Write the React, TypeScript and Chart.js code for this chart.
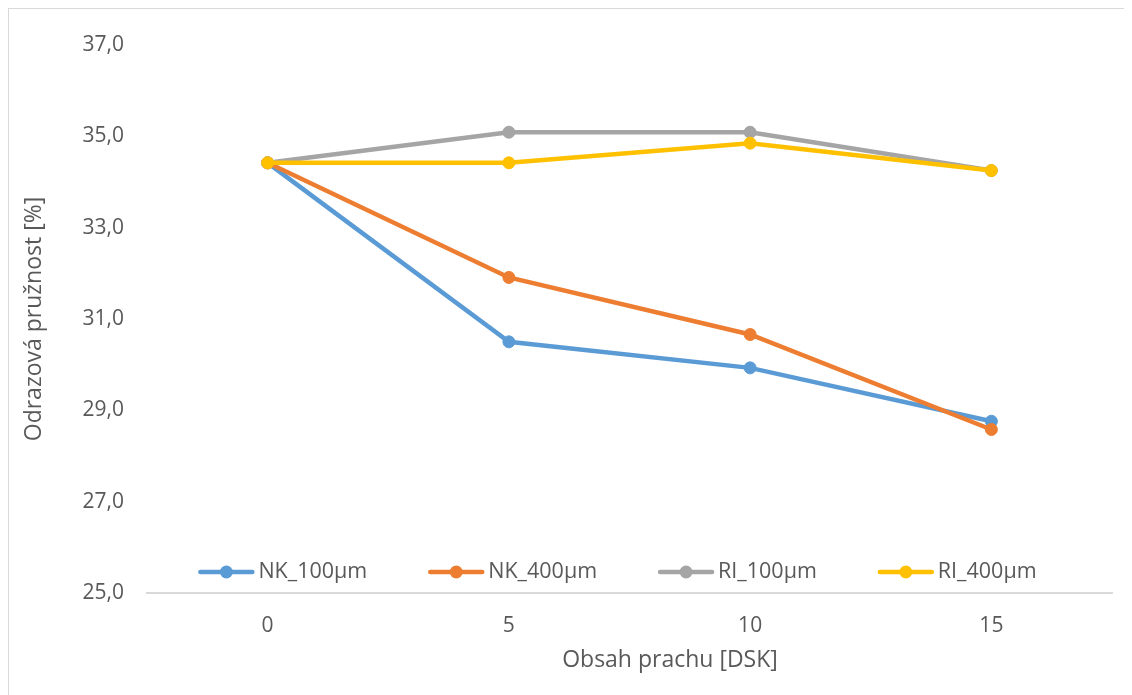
import React, { useEffect, useRef } from "react";
import { Chart, registerables } from "chart.js";

Chart.register(...registerables);

// Dust content categories (x axis)
const categories = ["0", "5", "10", "15"];

// Rebound resilience [%] for each series
const nk100 = [34.42, 30.5, 29.93, 28.76];
const nk400 = [34.42, 31.91, 30.66, 28.58];
const ri100 = [34.42, 35.09, 35.09, 34.25];
const ri400 = [34.42, 34.42, 34.85, 34.25];

const seriesNames = ["NK_100µm", "NK_400µm", "RI_100µm", "RI_400µm"];
const seriesColors = ["#5B9BD5", "#ED7D31", "#A5A5A5", "#FFC000"];

const xTitle = "Obsah prachu [DSK]";
const yTitle = "Odrazová pružnost [%]";

const yMin = 25;
const yMax = 37;
const yStep = 2;

const FONT = "'Open Sans', 'Liberation Sans', sans-serif";
const TEXT = "#595959";

// Legend drawn inside the plot area, along its bottom edge,
// plus the x axis title, which sits a little right of the plot centre
const insideLegend = {
  id: "insideLegend",
  afterDatasetsDraw(chart: any) {
    const { ctx, chartArea } = chart;
    const datasets = chart.data.datasets;
    ctx.save();
    ctx.font = `21.5px ${FONT}`;
    const lineLen = 56;
    const textGap = 4;
    const itemGap = 61;
    const widths = datasets.map((d: any) => lineLen + textGap + ctx.measureText(d.label).width);
    const total = widths.reduce((a: number, b: number) => a + b, 0) + itemGap * (datasets.length - 1);
    const center = (chartArea.left + chartArea.right) / 2 - 12;
    let x = center - total / 2;
    const y = chartArea.bottom - 21;
    datasets.forEach((d: any, i: number) => {
      ctx.strokeStyle = d.borderColor;
      ctx.lineWidth = 4.5;
      ctx.lineCap = "round";
      ctx.beginPath();
      ctx.moveTo(x + 2, y);
      ctx.lineTo(x + lineLen - 2, y);
      ctx.stroke();
      ctx.fillStyle = d.pointBackgroundColor;
      ctx.beginPath();
      ctx.arc(x + lineLen / 2, y, 6.5, 0, Math.PI * 2);
      ctx.fill();
      ctx.fillStyle = TEXT;
      ctx.textAlign = "left";
      ctx.textBaseline = "middle";
      ctx.fillText(d.label, x + lineLen + textGap, y);
      x += widths[i] + itemGap;
    });

    ctx.font = `23px ${FONT}`;
    ctx.fillStyle = TEXT;
    ctx.textAlign = "center";
    ctx.textBaseline = "middle";
    ctx.fillText(xTitle, (chartArea.left + chartArea.right) / 2 + 40.5, chartArea.bottom + 67);
    ctx.restore();
  },
};

export default function App() {
  const canvasRef = useRef<HTMLCanvasElement | null>(null);

  useEffect(() => {
    if (!canvasRef.current) return;
    const values = [nk100, nk400, ri100, ri400];
    const chart = new Chart(canvasRef.current, {
      type: "line",
      data: {
        labels: categories,
        datasets: values.map((v, i) => ({
          label: seriesNames[i],
          data: v,
          borderColor: seriesColors[i],
          backgroundColor: seriesColors[i],
          pointBackgroundColor: seriesColors[i],
          pointBorderColor: seriesColors[i],
          pointRadius: 6,
          pointBorderWidth: 1,
          borderWidth: 4.5,
          tension: 0,
          fill: false,
          order: values.length - i,
        })),
      },
      options: {
        animation: false,
        responsive: true,
        maintainAspectRatio: false,
        layout: { padding: { left: 10, right: 20, top: 36, bottom: 0 } },
        plugins: {
          legend: { display: false },
          tooltip: { enabled: false },
        },
        scales: {
          x: {
            type: "category",
            offset: true,
            grid: { display: false, drawTicks: false },
            border: { display: true, color: "#d9d9d9", width: 2 },
            ticks: { color: TEXT, font: { family: FONT, size: 21 }, padding: 20 },
            afterFit: (scale: any) => {
              scale.height = 102;
            },
          },
          y: {
            min: yMin,
            max: yMax,
            grid: { display: false, drawTicks: false },
            border: { display: false },
            ticks: {
              stepSize: yStep,
              color: TEXT,
              font: { family: FONT, size: 21 },
              padding: 23,
              callback: (v: any) => Number(v).toFixed(1).replace(".", ","),
            },
            title: {
              display: true,
              text: yTitle,
              color: TEXT,
              font: { family: FONT, size: 23 },
              padding: 2,
            },
            afterFit: (scale: any) => {
              scale.width = 128;
            },
          },
        },
      },
      plugins: [insideLegend],
    });
    return () => chart.destroy();
  }, []);

  return (
    <div
      style={{
        width: 1123,
        height: 686,
        borderTop: "1px solid #d9d9d9",
        borderLeft: "1px solid #d9d9d9",
        background: "#fff",
      }}
    >
      <div style={{ position: "relative", width: 1123, height: 686 }}>
        <canvas ref={canvasRef} />
      </div>
    </div>
  );
}
